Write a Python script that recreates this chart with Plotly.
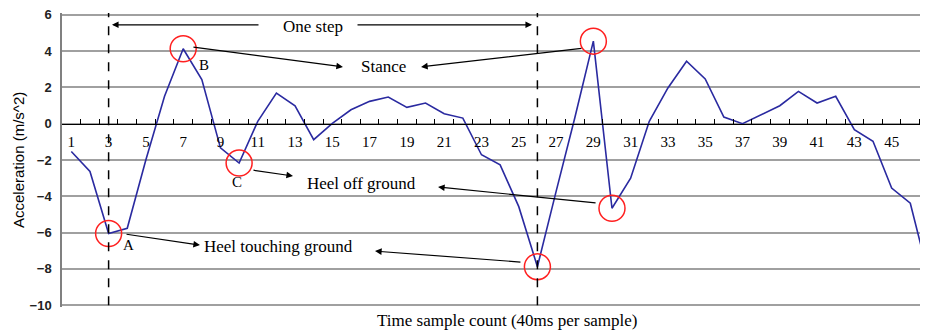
import plotly.graph_objects as go

# ---- data ----
samples = list(range(1, 48))
acceleration = [
    -1.53, -2.63, -6.05, -5.76, -1.99, 1.51, 4.13, 2.43, -1.33, -2.17,
    0.13, 1.69, 0.99, -0.88, 0.02, 0.77, 1.23, 1.47, 0.90, 1.14,
    0.55, 0.31, -1.71, -2.27, -4.57, -7.88, -3.74, 0.30, 4.55, -4.66,
    -3.00, 0.13, 1.97, 3.44, 2.47, 0.37, 0.00, 0.50, 0.99, 1.78,
    1.14, 1.51, -0.33, -0.97, -3.55, -4.38, -8.45,
]
x_tick_vals = list(range(1, 48, 2))
x_tick_text = [str(v) for v in x_tick_vals]
y_tick_vals = list(range(-10, 7, 2))
circled_samples = [3, 7, 10, 26, 29, 30]
step_bounds = [3, 26]

SERIF = "Liberation Serif"
SANS = "Liberation Sans"
circ_y = [acceleration[s - 1] for s in circled_samples]

fig = go.Figure()
fig.add_trace(go.Scatter(
    x=samples, y=acceleration, mode="lines",
    line=dict(color="#2a2aa0", width=1.6), showlegend=False,
))
fig.add_trace(go.Scatter(
    x=circled_samples, y=circ_y, mode="markers",
    marker=dict(symbol="circle-open", size=26, color="#ff2020",
                line=dict(width=1.5, color="#ff2020")),
    showlegend=False,
))
# invisible trace on the tick axis
fig.add_trace(go.Scatter(x=[0.5], y=[0], xaxis="x2", mode="markers",
                         marker=dict(opacity=0), showlegend=False,
                         hoverinfo="skip"))

for s in step_bounds:
    fig.add_shape(type="line", x0=s, x1=s, y0=-10, y1=6.1, xref="x", yref="y",
                  line=dict(color="black", width=1.5, dash="dash"))

anns = []
def text(x, y, t, size=17):
    anns.append(dict(x=x, y=y, xref="x", yref="y", text=t, showarrow=False,
                     font=dict(family=SERIF, size=size, color="black")))
def arrow(x0, y0, x1, y1):
    anns.append(dict(x=x1, y=y1, ax=x0, ay=y0, xref="x", yref="y",
                     axref="x", ayref="y", text="", showarrow=True,
                     arrowhead=2, arrowsize=1.1, arrowwidth=1.2,
                     arrowcolor="black"))

text(13.96, 5.34, "One step")
arrow(11.12, 5.45, 3.18, 5.45)
arrow(16.27, 5.45, 25.71, 5.45)
text(17.72, 3.13, "Stance")
arrow(7.47, 4.23, 15.57, 3.13)
arrow(28.44, 4.16, 19.76, 3.13)
text(16.54, -3.27, "Heel off ground")
arrow(10.69, -2.55, 12.89, -2.88)
arrow(29.2, -4.37, 20.67, -3.49)
text(12.09, -6.74, "Heel touching ground")
arrow(3.88, -6.08, 7.9, -6.69)
arrow(25.17, -7.63, 17.29, -7.02)
text(4.04, -6.69, "A", 15)
text(8.12, 3.24, "B", 15)
text(9.89, -3.21, "C", 15)

anns.append(dict(x=(18 - 62) / 866, y=0.5, xref="paper", yref="paper",
                 xanchor="center", yanchor="middle",
                 text="Acceleration (m/s^2)", textangle=-90, showarrow=False,
                 font=dict(family=SANS, size=15, color="black")))
anns.append(dict(x=0.514, y=-(320 - 307) / 294, xref="paper", yref="paper",
                 xanchor="center", yanchor="middle",
                 text="Time sample count (40ms per sample)", showarrow=False,
                 font=dict(family=SERIF, size=17, color="black")))

fig.update_layout(
    width=920, height=322,
    margin=dict(l=54, r=0, t=5, b=23),
    paper_bgcolor="white", plot_bgcolor="white",
    font=dict(family=SERIF, size=14, color="black"),
    annotations=anns,
    xaxis=dict(range=[0.5, 46.95], tickvals=x_tick_vals, ticktext=x_tick_text,
               anchor="free", position=10.1 / 16.2, showgrid=False,
               zeroline=False, showline=False, ticks="", ticklabelstandoff=7,
               tickfont=dict(family=SERIF, size=15)),
    xaxis2=dict(range=[0.5, 46.95], overlaying="x", anchor="free",
                position=10.1 / 16.2, tickvals=[v + 0.5 for v in range(0, 47)],
                ticks="inside", ticklen=5, tickcolor="black", tickwidth=1,
                showticklabels=False, showgrid=False, zeroline=False,
                showline=True, linecolor="black", linewidth=1.2, side="bottom"),
    yaxis=dict(range=[-10.1, 6.1], tickvals=y_tick_vals, showgrid=True,
               gridcolor="#a0a0a0", gridwidth=1.5, zeroline=False,
               showline=True, linecolor="#808080", linewidth=1.5,
               ticks="", ticklabelstandoff=6, ticklabeloverflow="allow",
               tickfont=dict(family=SANS, size=13, weight="bold",
                             color="#222222")),
)
fig.write_html("out.html")
